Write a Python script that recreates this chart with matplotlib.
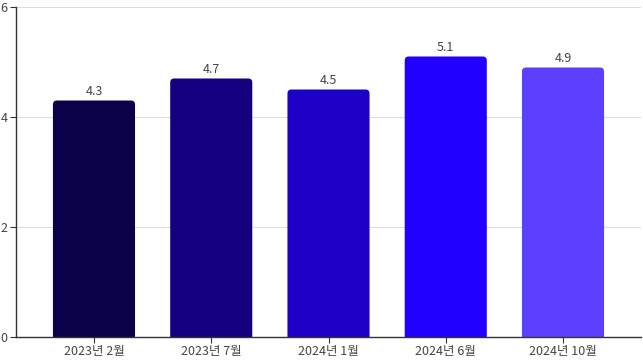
import matplotlib
matplotlib.use("Agg")
import matplotlib.pyplot as plt
from matplotlib.patches import FancyBboxPatch

plt.rcParams['font.family'] = ['Noto Sans CJK KR', 'DejaVu Sans']

categories = ["2023년 2월", "2023년 7월", "2024년 1월", "2024년 6월", "2024년 10월"]
values = [4.3, 4.7, 4.5, 5.1, 4.9]
colors = ["#0b004a", "#14007f", "#1c00c6", "#2200ff", "#5b40ff"]
yticks = [0, 2, 4, 6]

fig = plt.figure(figsize=(6.43, 3.61), dpi=100)
ax = fig.add_axes([16/643, 24/361, 625/643, 330/361])

x = list(range(len(categories)))
bars = ax.bar(x, values, width=0.7, color=colors, zorder=2)

ax.set_xlim(-0.665, 4.665)
ax.set_ylim(0, 6)

# replace with rounded-top bars
px_x = 625 / (4.665 + 0.665)
px_y = 330 / 6
r = 4 / px_x
aspect = (4 / px_y) / r
for b, c in zip(bars, colors):
    b.set_visible(False)
    bx, bw, bh = b.get_x(), b.get_width(), b.get_height()
    p = FancyBboxPatch((bx, -0.3), bw, bh + 0.3,
                       boxstyle=f"round,pad=0,rounding_size={r}",
                       mutation_aspect=aspect, facecolor=c, edgecolor="none",
                       zorder=2, clip_on=True)
    ax.add_patch(p)
    ax.text(bx + bw / 2, bh + 0.05, f"{bh:.1f}", ha="center", va="bottom",
            fontsize=9, color="#444444", zorder=3)

ax.set_xticks(x)
ax.set_xticklabels(categories)
ax.set_yticks(yticks)
ax.grid(axis="y", color="#dddddd", linewidth=0.8, zorder=0)
for s in ["top", "right"]:
    ax.spines[s].set_visible(False)
for s in ["left", "bottom"]:
    ax.spines[s].set_color("#333333")
    ax.spines[s].set_linewidth(1.0)
ax.tick_params(axis="both", colors="#333333", labelcolor="#444444",
               labelsize=9, length=4, pad=2)

fig.savefig("out.png", dpi=100)
